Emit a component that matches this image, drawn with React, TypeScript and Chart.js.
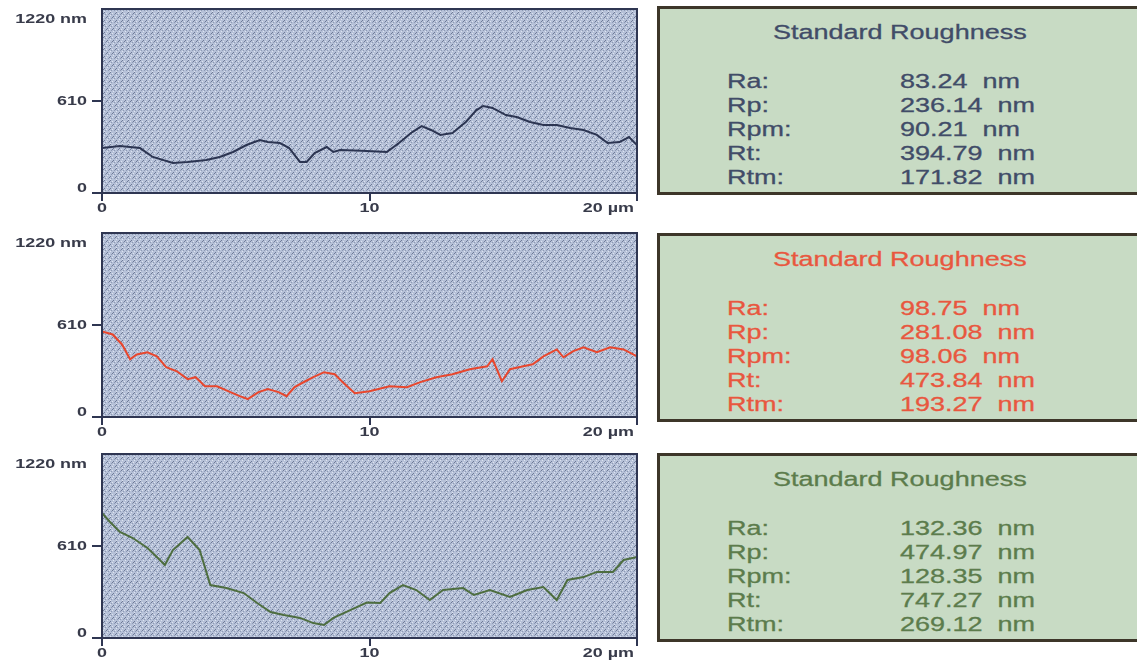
import React, { useEffect, useRef } from "react";
import { Chart, registerables } from "chart.js";

Chart.register(...registerables);

// Surface profiles: position along the scan (µm) and height (nm)
const profileTopX = [0, 0.67, 1.42, 1.9, 2.65, 3.2, 3.9, 4.4, 4.9, 5.4, 5.9, 6.2, 6.65, 7.0, 7.4, 7.65, 7.95, 8.4, 8.65, 8.9, 9.7, 10.65, 11.1, 11.6, 11.95, 12.3, 12.65, 13.1, 13.6, 14.0, 14.25, 14.6, 15.1, 15.5, 16.0, 16.5, 17.0, 17.5, 18.0, 18.5, 18.9, 19.35, 19.7, 20];
const profileTopY = [298, 312, 298, 239, 199, 206, 219, 239, 272, 318, 351, 338, 331, 298, 206, 206, 265, 305, 272, 285, 280, 272, 331, 404, 444, 418, 385, 398, 471, 550, 577, 564, 517, 504, 471, 451, 451, 431, 418, 385, 331, 338, 371, 318];

const profileMiddleX = [0, 0.4, 0.75, 1.05, 1.3, 1.7, 2.05, 2.4, 2.8, 3.2, 3.5, 3.85, 4.3, 4.8, 5.15, 5.45, 5.85, 6.2, 6.6, 6.9, 7.2, 7.6, 7.9, 8.3, 8.7, 9.0, 9.45, 10.0, 10.75, 11.4, 11.9, 12.5, 13.1, 13.75, 14.4, 14.6, 14.95, 15.25, 15.75, 16.1, 16.5, 17.0, 17.25, 17.6, 18.0, 18.5, 19.0, 19.5, 20];
const profileMiddleY = [567, 547, 481, 383, 415, 429, 402, 330, 303, 251, 264, 204, 204, 165, 138, 119, 165, 185, 165, 138, 198, 237, 264, 297, 284, 231, 158, 171, 204, 198, 231, 264, 284, 317, 336, 383, 237, 317, 336, 350, 402, 448, 396, 435, 462, 429, 462, 448, 402];

const profileBottomX = [0, 0.3, 0.67, 1.15, 1.7, 2.05, 2.35, 2.65, 3.2, 3.65, 4.05, 4.65, 5.3, 5.8, 6.3, 6.8, 7.4, 7.9, 8.3, 8.65, 9.3, 9.9, 10.4, 10.75, 11.25, 11.75, 12.25, 12.75, 13.5, 13.9, 14.5, 15.25, 15.9, 16.5, 17.0, 17.4, 18.0, 18.5, 19.1, 19.5, 20];
const profileBottomY = [829, 769, 703, 663, 597, 537, 484, 583, 670, 583, 351, 331, 298, 232, 172, 152, 133, 99, 86, 133, 186, 235, 232, 298, 351, 318, 252, 318, 331, 285, 318, 272, 318, 338, 252, 385, 404, 438, 438, 517, 537];

// Axis ticks and their captions
const xTickValues = [0, 10, 20];
const xTickLabels = ["0", "10", "20 µm"];
const yTickValues = [0, 610, 1220];
const yTickLabels = ["0", "610", "1220 nm"];

// Roughness parameters for each profile
const statNames = ["Ra:", "Rp:", "Rpm:", "Rt:", "Rtm:"];
const statsTop = ["83.24", "236.14", "90.21", "394.79", "171.82"];
const statsMiddle = ["98.75", "281.08", "98.06", "473.84", "193.27"];
const statsBottom = ["132.36", "474.97", "128.35", "747.27", "269.12"];

const AXIS_COLOR = "#2f3652";
const LABEL_COLOR = "#383b4a";
const LABEL_STRETCH = 1.38;

// Speckled weave used as the plot background
function makeTexture(): CanvasPattern | string {
  const size = 12;
  const tile = document.createElement("canvas");
  tile.width = size;
  tile.height = size;
  const t = tile.getContext("2d");
  if (!t) return "#a8b4cc";
  t.fillStyle = "#b6c1d8";
  t.fillRect(0, 0, size, size);
  const dark = "#6e7a96";
  const mid = "#8e9ab4";
  const light = "#dde3ef";
  const px = (x: number, y: number, c: string) => {
    t.fillStyle = c;
    t.fillRect(x % size, y % size, 1, 1);
  };
  // short slashes on a staggered grid
  const marks = [
    [0, 0], [6, 0], [3, 4], [9, 4], [0, 8], [6, 8],
  ];
  marks.forEach(([mx, my]) => {
    px(mx + 2, my, dark);
    px(mx + 1, my + 1, dark);
    px(mx, my + 2, mid);
    px(mx + 3, my + 2, mid);
    px(mx + 4, my + 1, light);
    px(mx + 2, my + 3, light);
  });
  const pattern = t.createPattern(tile, "repeat");
  return pattern || "#a8b4cc";
}

function stretchedText(
  ctx: CanvasRenderingContext2D,
  text: string,
  x: number,
  y: number,
  align: "left" | "center" | "right"
) {
  ctx.save();
  ctx.font = 'bold 13px "Liberation Sans", Arial, sans-serif';
  ctx.fillStyle = LABEL_COLOR;
  const w = ctx.measureText(text).width * LABEL_STRETCH;
  const left = align === "left" ? x : align === "center" ? x - w / 2 : x - w;
  ctx.translate(left, y);
  ctx.scale(LABEL_STRETCH, 1);
  ctx.textAlign = "left";
  ctx.textBaseline = "middle";
  ctx.fillText(text, 0, 0);
  ctx.restore();
}

const framePlugin = {
  id: "profileFrame",
  beforeDraw(chart: any) {
    const { ctx, chartArea: a } = chart;
    ctx.save();
    ctx.fillStyle = chart.$texture || "#a8b4cc";
    ctx.fillRect(a.left, a.top, a.right - a.left, a.bottom - a.top);
    ctx.restore();
  },
  afterDraw(chart: any) {
    const { ctx, chartArea: a, scales } = chart;
    ctx.save();
    ctx.strokeStyle = AXIS_COLOR;
    ctx.lineWidth = 2;
    ctx.strokeRect(a.left, a.top, a.right - a.left, a.bottom - a.top);
    ctx.restore();

    const yOffsets = [-5, 0, 10];
    yTickValues.forEach((v, i) => {
      const py = scales.y.getPixelForValue(v) + yOffsets[i];
      stretchedText(ctx, yTickLabels[i], a.left - 15, py, "right");
    });
    xTickValues.forEach((v, i) => {
      const px = scales.x.getPixelForValue(v);
      const align = i === 2 ? "right" : "center";
      stretchedText(ctx, xTickLabels[i], i === 2 ? px - 3 : px, a.bottom + 15, align);
    });
  },
};

type ProfileProps = { top: number; xs: number[]; ys: number[]; color: string };

function ProfileChart({ top, xs, ys, color }: ProfileProps) {
  const ref = useRef<HTMLCanvasElement | null>(null);

  useEffect(() => {
    if (!ref.current) return;
    const points = xs.map((x, i) => ({ x, y: ys[i] }));
    const chart: any = new Chart(ref.current, {
      type: "line",
      data: {
        datasets: [
          {
            data: points,
            borderColor: color,
            borderWidth: 2,
            pointRadius: 0,
            tension: 0,
            fill: false,
          },
        ],
      },
      options: {
        responsive: false,
        animation: false,
        devicePixelRatio: 1,
        layout: { padding: { top: 9, right: 23, left: 0, bottom: 0 } },
        plugins: { legend: { display: false }, tooltip: { enabled: false } },
        events: [],
        scales: {
          x: {
            type: "linear",
            min: 0,
            max: 20,
            afterBuildTicks: (s: any) => {
              s.ticks = xTickValues.map((value) => ({ value }));
            },
            afterFit: (s: any) => {
              s.height = 28;
            },
            ticks: { display: false },
            grid: {
              drawOnChartArea: false,
              drawTicks: true,
              tickLength: 8,
              color: AXIS_COLOR,
              lineWidth: 2,
            },
            border: { display: true, color: AXIS_COLOR, width: 2 },
          },
          y: {
            type: "linear",
            min: 0,
            max: 1220,
            afterBuildTicks: (s: any) => {
              s.ticks = yTickValues.map((value) => ({ value }));
            },
            afterFit: (s: any) => {
              s.width = 102;
            },
            ticks: { display: false },
            grid: {
              drawOnChartArea: false,
              drawTicks: true,
              tickLength: 10,
              color: (c: any) => (c.tick && c.tick.value === 1220 ? "rgba(0,0,0,0)" : AXIS_COLOR),
              lineWidth: 2,
            },
            border: { display: true, color: AXIS_COLOR, width: 2 },
          },
        },
      },
      plugins: [framePlugin],
    });
    chart.$texture = makeTexture();
    chart.draw();
    return () => chart.destroy();
  }, [xs, ys, color]);

  return (
    <canvas
      ref={ref}
      width={660}
      height={221}
      style={{ position: "absolute", left: 0, top, width: 660, height: 221 }}
    />
  );
}

type StatsProps = { top: number; color: string; values: string[] };

const boxText: React.CSSProperties = {
  position: "absolute",
  fontFamily: '"Liberation Sans", Arial, sans-serif',
  fontSize: 20,
  lineHeight: "24px",
  whiteSpace: "pre",
  transform: "scaleX(1.35)",
  transformOrigin: "left top",
  WebkitTextStroke: "0.3px currentColor",
};

function StatsBox({ top, color, values }: StatsProps) {
  return (
    <div
      style={{
        position: "absolute",
        left: 657,
        top,
        width: 520,
        height: 189,
        boxSizing: "border-box",
        border: "3px solid #3d3629",
        background: "#c8dbc4",
        color,
      }}
    >
      <div style={{ ...boxText, left: 113, top: 11 }}>Standard Roughness</div>
      {statNames.map((name, i) => (
        <React.Fragment key={name}>
          <div style={{ ...boxText, left: 67, top: 60 + i * 24 }}>{name}</div>
          <div style={{ ...boxText, left: 240, top: 60 + i * 24 }}>{values[i] + "  nm"}</div>
        </React.Fragment>
      ))}
    </div>
  );
}

export default function App() {
  return (
    <div
      style={{
        position: "fixed",
        left: 0,
        top: 0,
        width: 1137,
        height: 663,
        overflow: "hidden",
        background: "#ffffff",
      }}
    >
      <ProfileChart top={0} xs={profileTopX} ys={profileTopY} color="#2c3552" />
      <ProfileChart top={224} xs={profileMiddleX} ys={profileMiddleY} color="#e8472e" />
      <ProfileChart top={445} xs={profileBottomX} ys={profileBottomY} color="#4e6e40" />
      <StatsBox top={6} color="#414c68" values={statsTop} />
      <StatsBox top={233} color="#e8573f" values={statsMiddle} />
      <StatsBox top={453} color="#5c7c4c" values={statsBottom} />
    </div>
  );
}
